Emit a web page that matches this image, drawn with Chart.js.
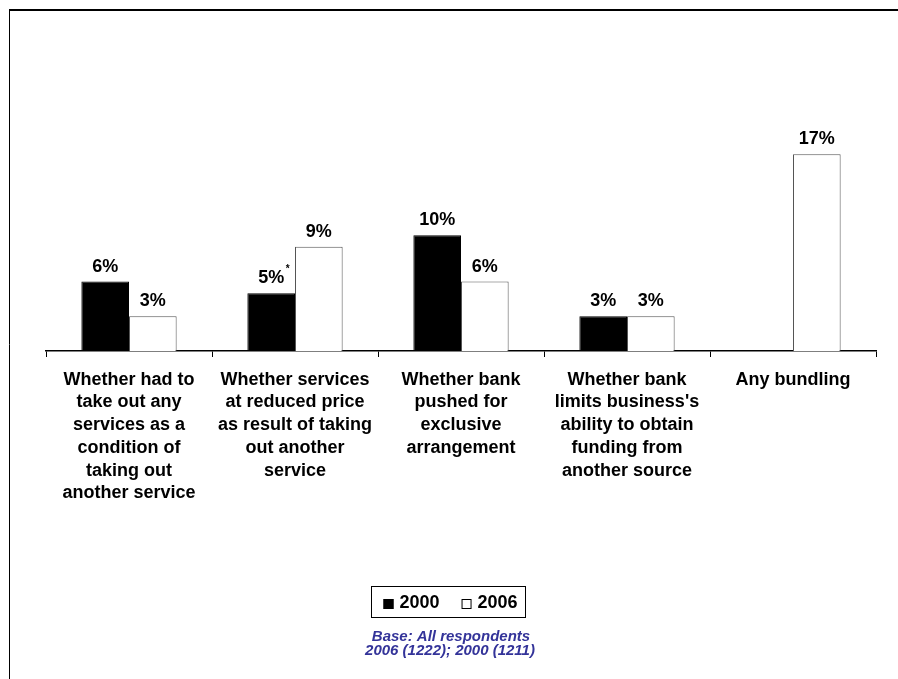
<!DOCTYPE html>
<html>
<head>
<meta charset="utf-8">
<title>Bundling of banking services, 2000 vs 2006</title>
<script src="https://cdn.jsdelivr.net/npm/chart.js@4.4.1/dist/chart.umd.min.js"></script>
<style>
  html, body { margin: 0; padding: 0; background: #ffffff; }
  #wrap { position: relative; width: 898px; height: 679px; overflow: hidden; }
  canvas { display: block; }
</style>
</head>
<body>
<div id="wrap"><canvas id="chart" width="898" height="679"></canvas></div>
<script>
// Category labels, one array of lines per category
const categories = [
  ["Whether had to", "take out any", "services as a", "condition of", "taking out", "another service"],
  ["Whether services", "at reduced price", "as result of taking", "out another", "service"],
  ["Whether bank", "pushed for", "exclusive", "arrangement"],
  ["Whether bank", "limits business's", "ability to obtain", "funding from", "another source"],
  ["Any bundling"]
];

// Percentages per survey year (null = not asked)
const values2000 = [6, 5, 10, 3, null];
const values2006 = [3, 9, 6, 3, 17];

// Footnote markers attached to value labels
const notes2000 = ["", "*", "", "", ""];
const notes2006 = ["", "", "", "", ""];

const seriesLabels = ["2000", "2006"];
const baseNote = ["Base: All respondents", "2006 (1222); 2000 (1211)"];

const FONT = '"Liberation Sans", Arial, Helvetica, sans-serif';

// Frame, value labels, legend box and base note
const decorations = {
  id: 'decorations',
  beforeDraw(chart) {
    const ctx = chart.ctx;
    ctx.save();
    ctx.strokeStyle = '#000';
    ctx.lineWidth = 2;
    ctx.beginPath();
    ctx.moveTo(9, 10);
    ctx.lineTo(chart.width, 10);
    ctx.stroke();
    ctx.lineWidth = 1;
    ctx.beginPath();
    ctx.moveTo(9.5, 10);
    ctx.lineTo(9.5, chart.height);
    ctx.stroke();
    ctx.restore();
  },
  afterDatasetsDraw(chart) {
    const ctx = chart.ctx;
    const notes = [notes2000, notes2006];
    ctx.save();
    chart.data.datasets.forEach((ds, di) => {
      const meta = chart.getDatasetMeta(di);
      meta.data.forEach((bar, i) => {
        const v = ds.data[i];
        if (v === null || v === undefined) return;
        const txt = v + '%';
        ctx.font = 'bold 18px ' + FONT;
        ctx.fillStyle = '#000';
        ctx.textAlign = 'center';
        ctx.textBaseline = 'alphabetic';
        const y = bar.y - 10;
        ctx.fillText(txt, bar.x, y);
        const note = notes[di][i];
        if (note) {
          const w = ctx.measureText(txt).width;
          ctx.font = 'bold 10px ' + FONT;
          ctx.textAlign = 'left';
          ctx.fillText(note, bar.x + w / 2 + 1.5, y - 11);
        }
      });
    });
    ctx.restore();
  },
  afterDraw(chart) {
    const ctx = chart.ctx;
    ctx.save();
    // legend
    const cx = 448;
    const boxTop = 586, boxH = 31;
    ctx.font = 'bold 18px ' + FONT;
    const items = chart.data.datasets.map(ds => ({
      label: ds.label, fill: ds.backgroundColor, stroke: ds.borderColor,
      w: ctx.measureText(ds.label).width
    }));
    const sq = 10, gap = 6, itemGap = 22, padL = 12, padR = 8;
    let total = padL + padR;
    items.forEach((it, k) => { total += sq + gap + it.w + (k ? itemGap : 0); });
    const left = Math.round(cx - total / 2) + 0.5;
    ctx.strokeStyle = '#000';
    ctx.lineWidth = 1;
    ctx.strokeRect(left, boxTop + 0.5, Math.round(total), boxH);
    let x = left + padL;
    const midY = 603;
    items.forEach((it, k) => {
      if (k) x += itemGap;
      ctx.fillStyle = it.fill;
      ctx.fillRect(x, midY - 4, sq, sq);
      ctx.strokeStyle = '#000';
      ctx.strokeRect(x + 0.5, midY - 3.5, sq - 1, sq - 1);
      x += sq + gap;
      ctx.fillStyle = '#000';
      ctx.textAlign = 'left';
      ctx.textBaseline = 'middle';
      ctx.fillText(it.label, x, midY + 0.5);
      x += it.w;
    });
    // base note
    ctx.font = 'italic bold 15px ' + FONT;
    ctx.fillStyle = '#333399';
    ctx.textAlign = 'center';
    ctx.textBaseline = 'middle';
    ctx.fillText(baseNote[0], 451, 637);
    ctx.fillText(baseNote[1], 450, 651);
    ctx.restore();
  }
};

new Chart(document.getElementById('chart'), {
  type: 'bar',
  data: {
    labels: categories,
    datasets: [
      {
        label: seriesLabels[0],
        data: values2000,
        backgroundColor: '#000000',
        borderColor: '#000000',
        borderWidth: 1
      },
      {
        label: seriesLabels[1],
        data: values2006,
        backgroundColor: '#ffffff',
        borderColor: '#555555',
        borderWidth: 1
      }
    ]
  },
  options: {
    responsive: false,
    animation: false,
    devicePixelRatio: 1,
    categoryPercentage: 0.574,
    barPercentage: 1,
    layout: { padding: { left: 46, right: 22, top: 119.6, bottom: 168 } },
    plugins: {
      legend: { display: false },
      tooltip: { enabled: false },
      title: { display: false }
    },
    scales: {
      y: {
        display: false,
        min: 0,
        max: 20
      },
      x: {
        offset: true,
        afterFit(scale) { scale.height = 160; },
        border: { display: true, color: '#000', width: 1.5 },
        grid: {
          offset: true,
          drawOnChartArea: false,
          drawTicks: true,
          tickLength: 6,
          color: '#000',
          lineWidth: 1
        },
        ticks: {
          autoSkip: false,
          maxRotation: 0,
          minRotation: 0,
          padding: 11.5,
          color: '#000',
          font: { family: FONT, size: 18, weight: 'bold', lineHeight: 1.26 }
        }
      }
    }
  },
  plugins: [decorations]
});
</script>
</body>
</html>
